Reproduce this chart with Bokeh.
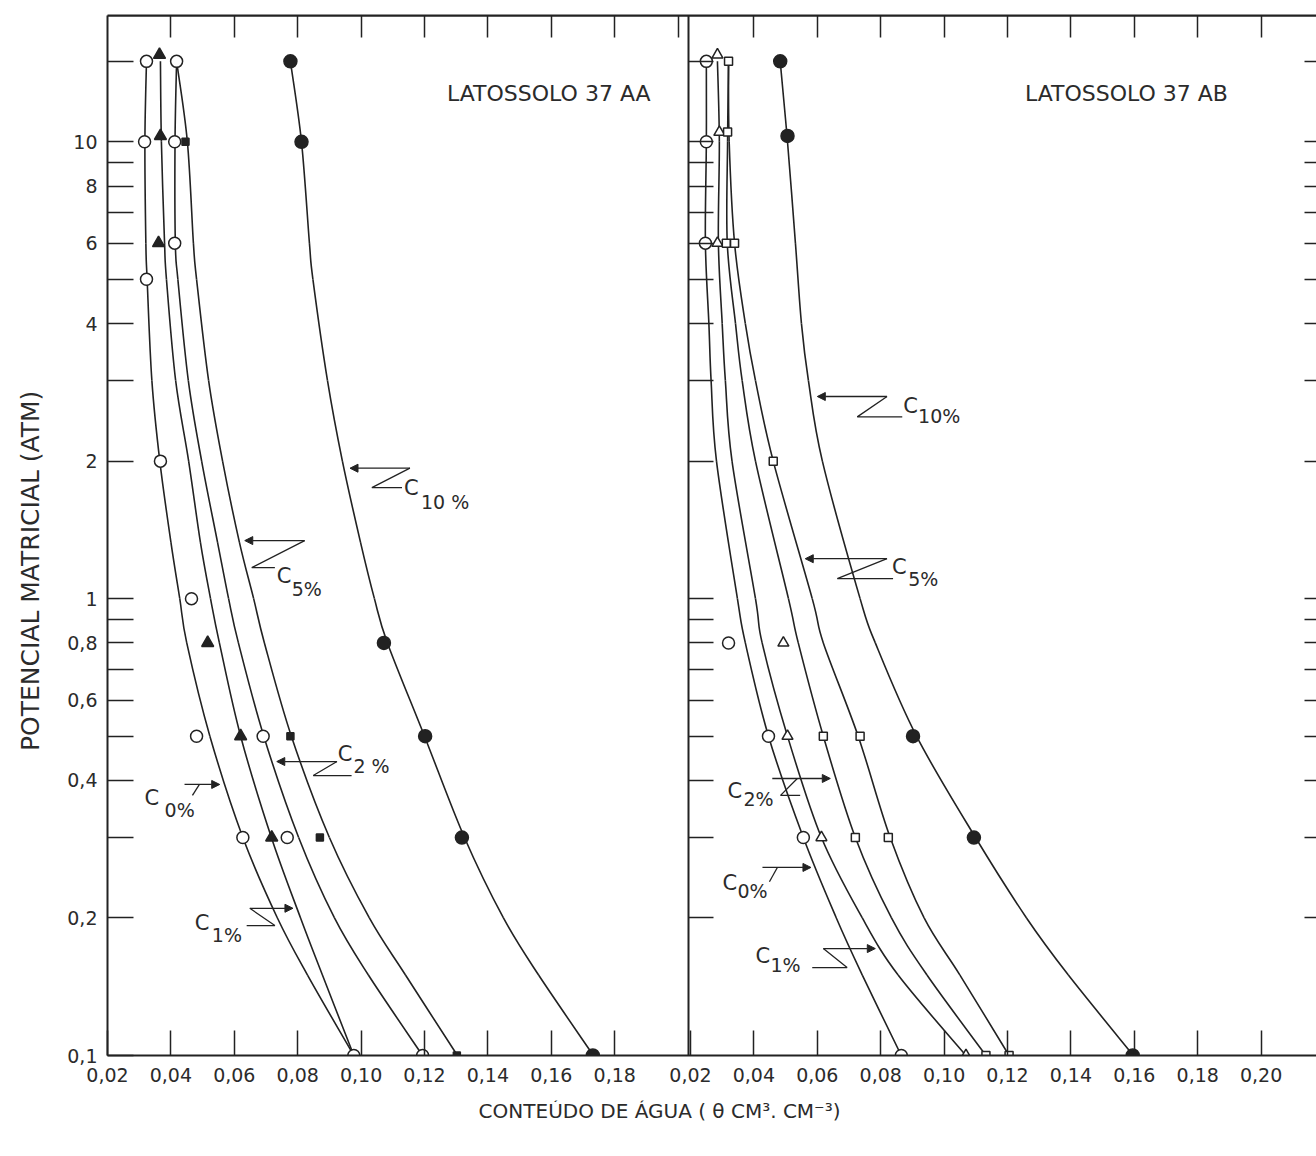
import math
from bokeh.plotting import figure
from bokeh.models import (Range1d, LinearAxis, LogAxis, FixedTicker,
                          CustomJSTickFormatter, Arrow, NormalHead)
from bokeh.layouts import row, column
from bokeh.embed import file_html
from bokeh.resources import INLINE
from bokeh.core.properties import value

# ---------------------------------------------------------------- data
PANEL_TITLES = ["LATOSSOLO 37 AA", "LATOSSOLO 37 AB"]
SERIES = ["C0%", "C1%", "C2%", "C5%", "C10%"]

Y_TITLE = "POTENCIAL MATRICIAL (ATM)"
X_TITLE = "CONTEÚDO DE ÁGUA ( θ CM³. CM⁻³)"

Y_TICKS = [0.1, 0.2, 0.3, 0.4, 0.5, 0.6, 0.7, 0.8, 0.9, 1, 2, 3, 4, 5, 6, 7, 8, 9, 10, 15]
Y_LABELS = ["0,1", "0,2", "", "0,4", "", "0,6", "", "0,8", "", "1",
            "2", "", "4", "", "6", "", "8", "", "10", ""]

X_TICKS_AA = [0.02, 0.04, 0.06, 0.08, 0.10, 0.12, 0.14, 0.16, 0.18]
X_LABELS_AA = ["0,02", "0,04", "0,06", "0,08", "0,10", "0,12", "0,14", "0,16", "0,18"]
X_TICKS_AB = [0.02, 0.04, 0.06, 0.08, 0.10, 0.12, 0.14, 0.16, 0.18, 0.20]
X_LABELS_AB = ["0,02", "0,04", "0,06", "0,08", "0,10", "0,12", "0,14", "0,16", "0,18", "0,20"]
TOP_TICKS = [0.04, 0.06, 0.08, 0.10, 0.12, 0.14, 0.16, 0.18, 0.20]

# drawn (fitted) curves, LATOSSOLO 37 AA
AA_CURVE_Y = [15, 10, 6, 5, 3, 2, 1.33, 1, 0.8, 0.5, 0.3, 0.2, 0.15, 0.1]
AA_C0_CURVE = [0.0323, 0.0318, 0.0321, 0.0325, 0.0340, 0.0365, 0.0400, 0.0428, 0.0450, 0.0523, 0.0627, 0.0736, 0.0831, 0.0977]
AA_C1_CURVE = [0.0367, 0.0370, 0.0380, 0.0386, 0.0415, 0.0456, 0.0493, 0.0525, 0.0553, 0.0620, 0.0717, 0.0809, 0.0878, 0.0977]
AA_C2_CURVE = [0.0418, 0.0413, 0.0414, 0.0422, 0.0455, 0.0497, 0.0547, 0.0582, 0.0613, 0.0693, 0.0803, 0.0916, 0.1023, 0.1194]
AA_C5_CURVE = [0.0418, 0.0452, 0.0471, 0.0481, 0.0519, 0.0563, 0.0616, 0.0661, 0.0695, 0.0780, 0.0900, 0.1026, 0.1140, 0.1304]
AA_C10_CURVE = [0.0777, 0.0812, 0.0837, 0.0848, 0.0894, 0.0941, 0.0998, 0.1042, 0.1083, 0.1200, 0.1326, 0.1449, 0.1560, 0.1733]

# measured points, LATOSSOLO 37 AA
AA_C0_Y = [15, 10, 5, 2, 1, 0.5, 0.3, 0.1]
AA_C0_X = [0.0323, 0.0317, 0.0323, 0.0367, 0.0465, 0.0481, 0.0627, 0.0977]
AA_C1_Y = [15.5, 10.3, 6, 0.8, 0.5, 0.3]
AA_C1_X = [0.0364, 0.0367, 0.0361, 0.0516, 0.0620, 0.0718]
AA_C2_Y = [15, 10, 6, 0.5, 0.3, 0.1]
AA_C2_X = [0.0418, 0.0412, 0.0412, 0.0691, 0.0767, 0.1194]
AA_C5_Y = [10, 0.5, 0.3, 0.1]
AA_C5_X = [0.0446, 0.0777, 0.0870, 0.1302]
AA_C10_Y = [15, 10, 0.8, 0.5, 0.3, 0.1]
AA_C10_X = [0.0777, 0.0812, 0.1072, 0.1202, 0.1318, 0.1731]

# drawn (fitted) curves, LATOSSOLO 37 AB
AB_CURVE_Y = [15, 10, 6, 4, 3, 2, 1, 0.8, 0.5, 0.3, 0.2, 0.15, 0.1]
AB_C0_CURVE = [0.0250, 0.0250, 0.0247, 0.0258, 0.0265, 0.0282, 0.0348, 0.0373, 0.0446, 0.0556, 0.0660, 0.0742, 0.0865]
AB_C1_CURVE = [0.0285, 0.0291, 0.0288, 0.0300, 0.0310, 0.0331, 0.0405, 0.0426, 0.0506, 0.0613, 0.0742, 0.0855, 0.1069]
AB_C2_CURVE = [0.0320, 0.0317, 0.0316, 0.0342, 0.0363, 0.0405, 0.0509, 0.0540, 0.0619, 0.0720, 0.0834, 0.0946, 0.1132]
AB_C5_CURVE = [0.0320, 0.0322, 0.0339, 0.0373, 0.0405, 0.0461, 0.0584, 0.0619, 0.0729, 0.0830, 0.0937, 0.1050, 0.1205]
AB_C10_CURVE = [0.0483, 0.0506, 0.0531, 0.0550, 0.0572, 0.0616, 0.0735, 0.0783, 0.0913, 0.1099, 0.1260, 0.1392, 0.1597]

# measured points, LATOSSOLO 37 AB
AB_C0_Y = [15, 10, 6, 0.8, 0.5, 0.3, 0.1]
AB_C0_X = [0.0250, 0.0250, 0.0247, 0.0320, 0.0446, 0.0556, 0.0865]
AB_C1_Y = [15.5, 10.5, 6, 0.8, 0.5, 0.3, 0.1]
AB_C1_X = [0.0285, 0.0291, 0.0285, 0.0493, 0.0506, 0.0613, 0.1069]
AB_C2_Y = [15, 10.5, 6, 0.5, 0.3, 0.1]
AB_C2_X = [0.0320, 0.0317, 0.0313, 0.0619, 0.0720, 0.1132]
AB_C5_Y = [6, 2, 0.5, 0.3, 0.1]
AB_C5_X = [0.0339, 0.0461, 0.0735, 0.0824, 0.1205]
AB_C10_Y = [15, 10.3, 0.5, 0.3, 0.1]
AB_C10_X = [0.0483, 0.0506, 0.0902, 0.1094, 0.1595]

# ---------------------------------------------------------------- style / layout
FONT = value("DejaVu Sans")
INK = "#222222"
TXT = "#2b2b2b"

X0 = 0.02
PX_PER_UNIT = 3170.0
PX_PER_DECADE = 457.0
FRAME_W = 1209          # px width of both panels together
AA_W = 581              # px width of the left panel
AB_ORIGIN = 583         # px from frame left where the right panel's 0,02 sits
Y_MIN, Y_MAX = 0.1, 18.9

aa_range = Range1d(X0, X0 + FRAME_W / PX_PER_UNIT)
ab_range = Range1d(X0 - AB_ORIGIN / PX_PER_UNIT, X0 + (FRAME_W - AB_ORIGIN) / PX_PER_UNIT)
DIVIDER = X0 + AA_W / PX_PER_UNIT
AB_SHIFT = AB_ORIGIN / PX_PER_UNIT

AA_STYLE = [("circle", 12, "white"), ("triangle", 12, INK), ("circle", 12, "white"),
            ("square", 7, INK), ("circle", 13, INK)]
AB_STYLE = [("circle", 12, "white"), ("triangle", 11, "white"), ("square", 8, "white"),
            ("square", 8, "white"), ("circle", 13, INK)]

# label / leader annotation layout (data units of each panel)
AA_NOTES = [
    dict(sub="0%", c=(0.0317, 0.367), s=(0.0380, 0.345),
         arrow=((0.0443, 0.392), (0.0554, 0.392)), zig=[(0.0490, 0.392), (0.0468, 0.371)]),
    dict(sub="1%", c=(0.0475, 0.195), s=(0.0529, 0.184),
         arrow=((0.0649, 0.21), (0.0785, 0.21)), zig=[(0.0639, 0.1925), (0.0728, 0.1925), (0.0649, 0.21)]),
    dict(sub="2 %", c=(0.0926, 0.456), s=(0.0976, 0.431),
         arrow=((0.0924, 0.44), (0.0734, 0.44)), zig=[(0.0924, 0.44), (0.0849, 0.41), (0.0970, 0.41)]),
    dict(sub="5%", c=(0.0734, 1.123), s=(0.0781, 1.052),
         arrow=((0.0822, 1.34), (0.0633, 1.34)), zig=[(0.0822, 1.34), (0.0655, 1.169), (0.0728, 1.169)]),
    dict(sub="10 %", c=(0.1135, 1.75), s=(0.1189, 1.63),
         arrow=((0.1154, 1.93), (0.0965, 1.93)), zig=[(0.1154, 1.93), (0.1034, 1.75), (0.1129, 1.75)]),
]
AB_NOTES = [
    dict(sub="0%", c=(0.0301, 0.239), s=(0.0348, 0.2297),
         arrow=((0.0427, 0.258), (0.0580, 0.258)), zig=[(0.0474, 0.258), (0.0449, 0.240)]),
    dict(sub="1%", c=(0.0405, 0.1655), s=(0.0452, 0.1574),
         arrow=((0.0619, 0.1714), (0.0783, 0.1714)), zig=[(0.0584, 0.1558), (0.0694, 0.1558), (0.0619, 0.1714)]),
    dict(sub="2%", c=(0.0317, 0.380), s=(0.0367, 0.365),
         arrow=((0.0458, 0.404), (0.0641, 0.404)), zig=[(0.0537, 0.404), (0.0484, 0.371), (0.0546, 0.371)]),
    dict(sub="5%", c=(0.0836, 1.175), s=(0.0887, 1.106),
         arrow=((0.0820, 1.223), (0.0562, 1.223)), zig=[(0.0820, 1.223), (0.0663, 1.106), (0.0839, 1.106)]),
    dict(sub="10%", c=(0.0871, 2.64), s=(0.0918, 2.51),
         arrow=((0.0820, 2.77), (0.0600, 2.77)), zig=[(0.0820, 2.77), (0.0726, 2.50), (0.0868, 2.50)]),
]
TITLE_POS = [(0.1271, 12.74), (0.1255, 12.74)]


def fmt(tick_values, tick_labels):
    return CustomJSTickFormatter(args=dict(tv=list(tick_values), tl=list(tick_labels)), code="""
        for (let i = 0; i < tv.length; i++) {
            if (Math.abs(tv[i] - tick) <= 1e-9 * Math.max(1, Math.abs(tick))) return tl[i];
        }
        return "";
    """)


def style_axis(ax, tick_in, labels=False, line=True, standoff=10):
    ax.major_tick_in = tick_in
    ax.major_tick_out = 0
    ax.minor_tick_in = 0
    ax.minor_tick_out = 0
    ax.major_tick_line_color = INK
    ax.major_tick_line_width = 1.5
    ax.axis_line_color = INK if line else None
    ax.axis_line_width = 2
    ax.major_label_text_font = "DejaVu Sans"
    ax.major_label_text_font_size = "19px" if labels else "0px"
    ax.major_label_text_color = TXT
    ax.major_label_standoff = standoff if labels else 0


def french_curve(xs, ys):
    """Bezier pieces that pass through every read point (hand-drawn curve look)."""
    X = [x * PX_PER_UNIT for x in xs]
    Y = [math.log10(y) * PX_PER_DECADE for y in ys]
    n = len(X)
    out = dict(x0=[], y0=[], x1=[], y1=[], cx0=[], cy0=[], cx1=[], cy1=[])
    for i in range(n - 1):
        a = i - 1 if i > 0 else i
        d = i + 2 if i + 2 < n else i + 1
        c0 = (X[i] + (X[i + 1] - X[a]) / 6.0, Y[i] + (Y[i + 1] - Y[a]) / 6.0)
        c1 = (X[i + 1] - (X[d] - X[i]) / 6.0, Y[i + 1] - (Y[d] - Y[i]) / 6.0)
        out["x0"].append(xs[i]); out["y0"].append(ys[i])
        out["x1"].append(xs[i + 1]); out["y1"].append(ys[i + 1])
        out["cx0"].append(c0[0] / PX_PER_UNIT); out["cy0"].append(10 ** (c0[1] / PX_PER_DECADE))
        out["cx1"].append(c1[0] / PX_PER_UNIT); out["cy1"].append(10 ** (c1[1] / PX_PER_DECADE))
    return out


# ---------------------------------------------------------------- main figure
p = figure(width=1264, height=1100, x_range=aa_range, y_range=Range1d(Y_MIN, Y_MAX),
           y_axis_type="log", x_axis_location=None, y_axis_location=None,
           toolbar_location=None, output_backend="svg",
           min_border_left=55, min_border_right=0, min_border_top=15, min_border_bottom=45,
           background_fill_color="white", border_fill_color="white")
p.extra_x_ranges = {"ab": ab_range}
p.outline_line_color = None
p.grid.visible = False

# bottom axis: both panels' ticks on one axis (right panel ticks shifted to its origin)
bottom_ticks = list(X_TICKS_AA) + [t + AB_SHIFT for t in X_TICKS_AB]
bottom_labels = list(X_LABELS_AA) + list(X_LABELS_AB)
ax = LinearAxis(ticker=FixedTicker(ticks=bottom_ticks, minor_ticks=[]), formatter=fmt(bottom_ticks, bottom_labels))
style_axis(ax, 25, labels=True, standoff=12)
p.add_layout(ax, "below")

# top axes (ticks only)
ax = LinearAxis(ticker=FixedTicker(ticks=TOP_TICKS, minor_ticks=[]), formatter=fmt([], []))
style_axis(ax, 22)
p.add_layout(ax, "above")
ax = LinearAxis(x_range_name="ab", fixed_location=Y_MAX,
                ticker=FixedTicker(ticks=TOP_TICKS, minor_ticks=[]), formatter=fmt([], []))
style_axis(ax, 22)
p.add_layout(ax, "above")

# left y axis with labels
ax = LogAxis(ticker=FixedTicker(ticks=Y_TICKS, minor_ticks=[]), formatter=fmt(Y_TICKS, Y_LABELS))
style_axis(ax, 26, labels=True, standoff=10)
p.add_layout(ax, "left")

# divider between the two panels (ticks pointing into the right panel)
ax = LogAxis(fixed_location=DIVIDER, ticker=FixedTicker(ticks=Y_TICKS[1:], minor_ticks=[]),
             formatter=fmt([], []))
style_axis(ax, 25)
p.add_layout(ax, "left")

# right edge ticks
ax = LogAxis(fixed_location=aa_range.end, ticker=FixedTicker(ticks=Y_TICKS[1:], minor_ticks=[]),
             formatter=fmt([], []))
style_axis(ax, 12, line=False)
p.add_layout(ax, "right")

# curves
for xs in [AA_C0_CURVE, AA_C1_CURVE, AA_C2_CURVE, AA_C5_CURVE, AA_C10_CURVE]:
    p.bezier(line_color=INK, line_width=1.6, **french_curve(xs, AA_CURVE_Y))
for xs in [AB_C0_CURVE, AB_C1_CURVE, AB_C2_CURVE, AB_C5_CURVE, AB_C10_CURVE]:
    p.bezier(line_color=INK, line_width=1.6, x_range_name="ab", **french_curve(xs, AB_CURVE_Y))

# measured points
aa_pts = [(AA_C0_X, AA_C0_Y), (AA_C1_X, AA_C1_Y), (AA_C2_X, AA_C2_Y), (AA_C5_X, AA_C5_Y), (AA_C10_X, AA_C10_Y)]
for (xs, ys), (mk, sz, fill) in zip(aa_pts, AA_STYLE):
    p.scatter(xs, ys, marker=mk, size=sz, fill_color=fill, line_color=INK, line_width=1.5)
ab_pts = [(AB_C0_X, AB_C0_Y), (AB_C1_X, AB_C1_Y), (AB_C2_X, AB_C2_Y), (AB_C5_X, AB_C5_Y), (AB_C10_X, AB_C10_Y)]
for (xs, ys), (mk, sz, fill) in zip(ab_pts, AB_STYLE):
    p.scatter(xs, ys, marker=mk, size=sz, fill_color=fill, line_color=INK, line_width=1.5,
              x_range_name="ab")

# panel titles
for (tx_, ty_), title, rn in zip(TITLE_POS, PANEL_TITLES, ["default", "ab"]):
    p.text(x=[tx_], y=[ty_], text=[title], text_font=FONT, text_font_size="22px",
           text_color=TXT, text_align="left", text_baseline="middle", x_range_name=rn)

# series labels with Z-shaped leaders
for notes, rn in [(AA_NOTES, "default"), (AB_NOTES, "ab")]:
    for n in notes:
        (xs0, ys0), (xe, ye) = n["arrow"]
        p.add_layout(Arrow(x_start=xs0, y_start=ys0, x_end=xe, y_end=ye,
                           line_color=INK, line_width=1.3, x_range_name=rn,
                           end=NormalHead(size=8, fill_color=INK, line_color=INK, line_width=1)))
        zx = [a for a, b in n["zig"]]
        zy = [b for a, b in n["zig"]]
        p.line(zx, zy, line_color=INK, line_width=1.3, x_range_name=rn)
        p.text(x=[n["c"][0]], y=[n["c"][1]], text=["C"], text_font=FONT, text_font_size="21px",
               text_color=TXT, text_align="left", text_baseline="middle", x_range_name=rn)
        p.text(x=[n["s"][0]], y=[n["s"][1]], text=[n["sub"]], text_font=FONT, text_font_size="19px",
               text_color=TXT, text_align="left", text_baseline="middle", x_range_name=rn)

# ---------------------------------------------------------------- axis titles
ty = figure(width=52, height=1100, x_range=Range1d(0, 1), y_range=Range1d(0, 1),
            toolbar_location=None, output_backend="svg", min_border=0,
            x_axis_location=None, y_axis_location=None,
            background_fill_color="white", border_fill_color="white")
ty.outline_line_color = None
ty.grid.visible = False
ty.text(x=[0.58], y=[0.466], text=[Y_TITLE], angle=math.pi / 2, text_font=FONT,
        text_font_size="25px", text_color=TXT, text_align="center", text_baseline="middle")

tx = figure(width=1316, height=40, x_range=Range1d(0, 1), y_range=Range1d(0, 1),
            toolbar_location=None, output_backend="svg", min_border=0,
            x_axis_location=None, y_axis_location=None,
            background_fill_color="white", border_fill_color="white")
tx.outline_line_color = None
tx.grid.visible = False
tx.text(x=[0.5008], y=[0.75], text=[X_TITLE], text_font=FONT,
        text_font_size="20px", text_color=TXT, text_align="center", text_baseline="middle")

layout = column(row(ty, p), tx)
open("out.html", "w").write(file_html(layout, INLINE, title="Potencial matricial"))
